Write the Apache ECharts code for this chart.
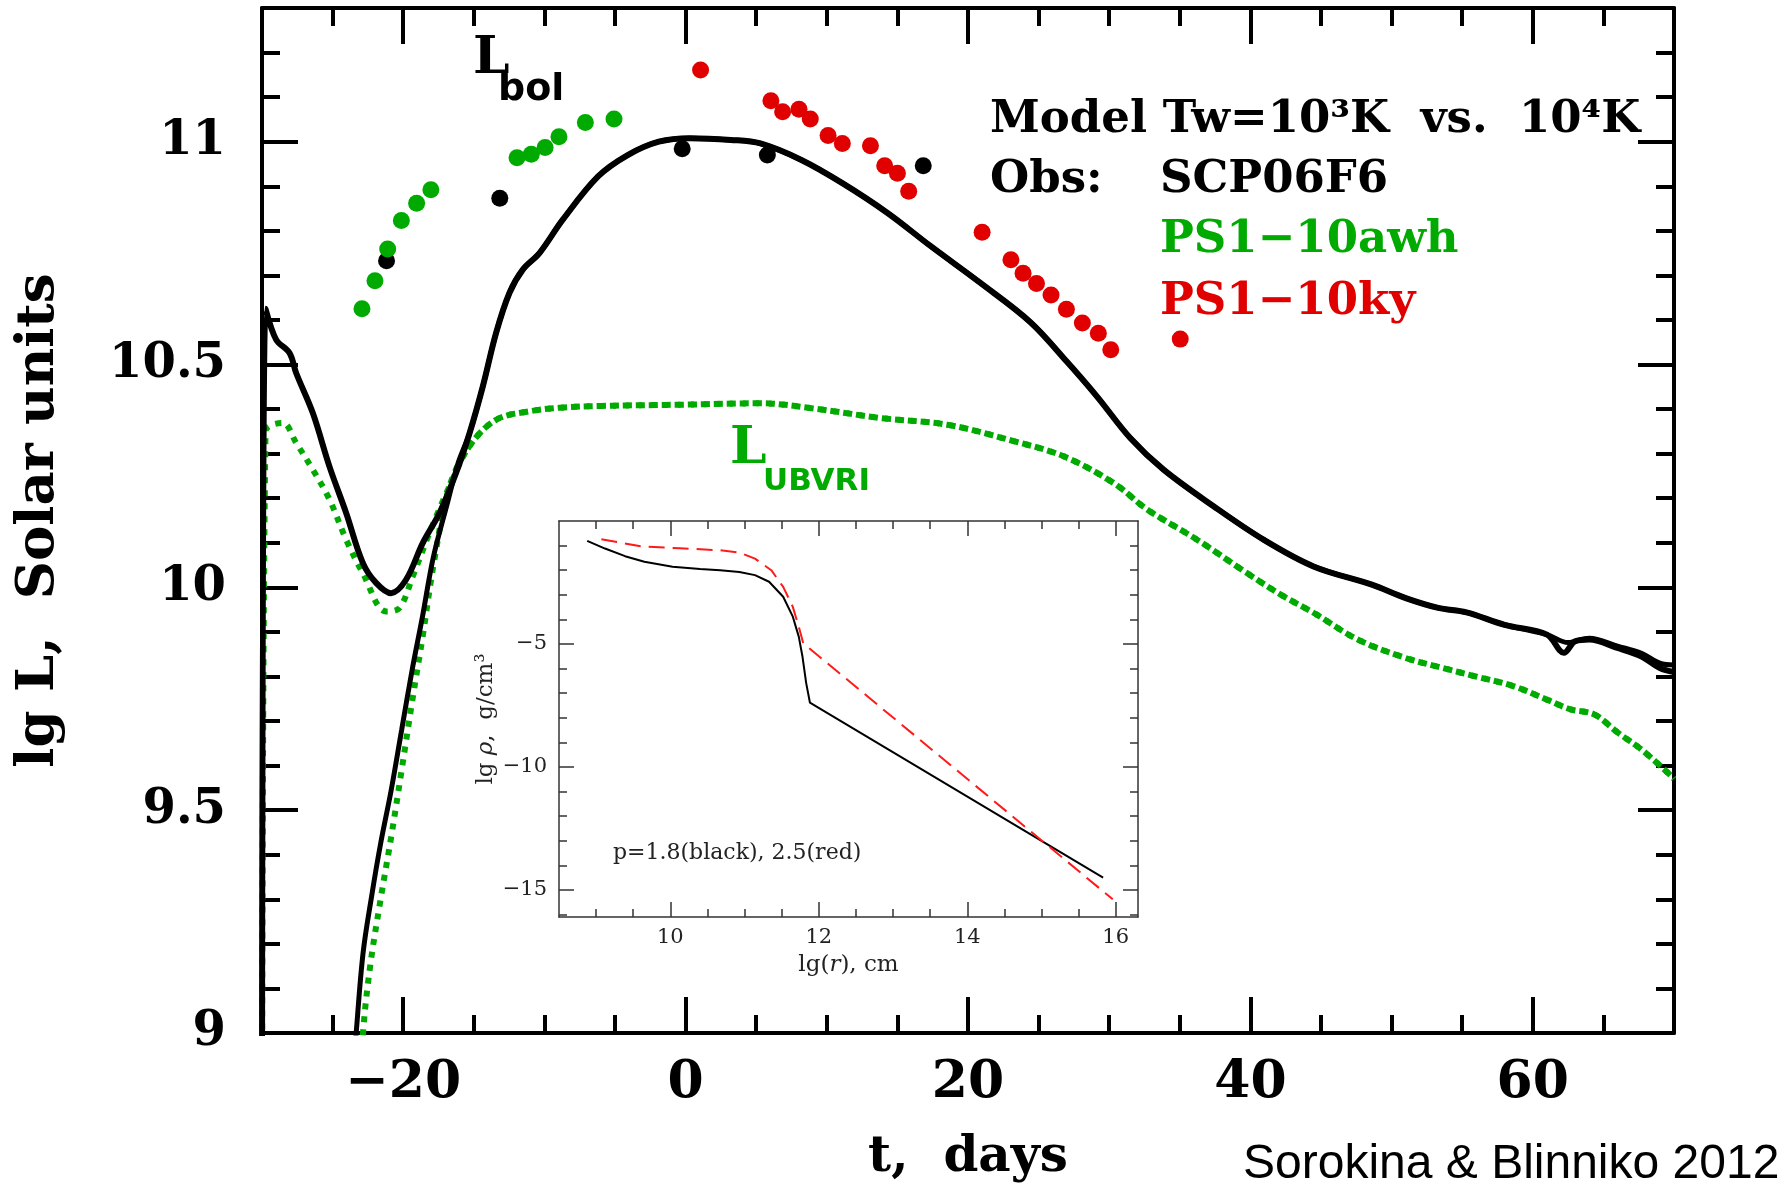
<!DOCTYPE html>
<html><head><meta charset="utf-8">
<script src="https://cdn.jsdelivr.net/npm/echarts@6/dist/echarts.min.js"></script>
<style>html,body{margin:0;padding:0;background:#fff}#c{width:1792px;height:1189px}</style>
</head><body><div id="c"></div>
<script>
// ---------- tick values ----------
const xMajorTicks = [-20, 0, 20, 40, 60];
const xMinorTicks = [-25, -15, -10, -5, 5, 10, 15, 25, 30, 35, 45, 50, 55, 65];
const yMajorTicks = [9, 9.5, 10, 10.5, 11];
const yMinorTicks = [9.1, 9.2, 9.3, 9.4, 9.6, 9.7, 9.8, 9.9, 10.1, 10.2, 10.3, 10.4, 10.6, 10.7, 10.8, 10.9, 11.1, 11.2];
const insetXMajorTicks = [10, 12, 14, 16];
const insetXMinorTicks = [9, 9.5, 10.5, 11, 11.5, 12.5, 13, 13.5, 14.5, 15, 15.5];
const insetYMajorTicks = [-15, -10, -5];
const insetYMinorTicks = [-16, -14, -13, -12, -11, -9, -8, -7, -6, -4, -3, -2, -1];

// ---------- L_bol model curves (t days, lg L) ----------
const lbolStartA = [[-30, 8.6], [-29.75, 10.625], [-29.0, 10.556], [-28.05, 10.526], [-27.58, 10.481], [-26.4, 10.391],
  [-25.22, 10.271], [-24.04, 10.167], [-22.86, 10.055], [-21.92, 10.01], [-20.86, 9.987], [-19.8, 10.017],
  [-18.61, 10.1], [-17.43, 10.167], [-16.25, 10.257]];
const lbolStartB = [[-24.6, 8.5], [-23.33, 9.0], [-22.84, 9.18], [-22.22, 9.31], [-21.6, 9.425], [-20.85, 9.545],
  [-20.11, 9.68], [-19.36, 9.816], [-18.62, 9.937], [-17.87, 10.067], [-16.88, 10.188], [-16.1, 10.28]];
const lbolMid = [[-15.3, 10.346], [-14.36, 10.451], [-13.42, 10.571], [-12.47, 10.661], [-11.53, 10.713],
  [-10.35, 10.75], [-8.7, 10.825], [-6.2, 10.922], [-4.1, 10.97], [-1.9, 11.0], [0.3, 11.008], [3.2, 11.004],
  [5.3, 10.996], [8.2, 10.959], [11.1, 10.907], [14.35, 10.839], [17.34, 10.766], [20.88, 10.683], [24.42, 10.595],
  [27.01, 10.506], [29.14, 10.428], [31.49, 10.335], [33.85, 10.264], [37.39, 10.182], [40.93, 10.107],
  [44.47, 10.047], [48.6, 10.006], [51.0, 9.976], [53.3, 9.954], [55.3, 9.944], [58.0, 9.916], [61.0, 9.894]];
const lbolEndA = [[62.2, 9.853], [63.0, 9.879], [64.0, 9.883], [66.0, 9.864], [67.7, 9.845], [69.0, 9.819], [70, 9.81]];
const lbolEndB = [[62.5, 9.876], [64.0, 9.886], [66.0, 9.868], [67.7, 9.852], [69.0, 9.83], [70, 9.826]];

// ---------- L_UBVRI model curves ----------
const ubvriStartA = [[-30, 8.6], [-29.75, 10.35], [-28.52, 10.369], [-27.58, 10.324], [-26.4, 10.264], [-25.22, 10.197],
  [-24.04, 10.107], [-22.86, 10.032], [-21.21, 9.946], [-20.26, 9.954], [-19.32, 10.025], [-18.14, 10.122],
  [-16.72, 10.227]];
const ubvriStartB = [[-23.9, 8.5], [-22.84, 9.002], [-22.34, 9.15], [-21.6, 9.3], [-20.85, 9.44], [-20.11, 9.59],
  [-19.36, 9.745], [-18.62, 9.89], [-17.8, 10.06], [-16.72, 10.227]];
const ubvriMid = [[-15.3, 10.317], [-13.42, 10.376], [-11.06, 10.395], [-8.94, 10.403], [-5.95, 10.407],
  [-0.09, 10.41], [5.32, 10.413], [8.93, 10.402], [13.8, 10.38], [18.52, 10.365], [23.24, 10.328], [26.78, 10.294],
  [30.32, 10.234], [32.68, 10.175], [36.22, 10.107], [39.76, 10.032], [42.24, 9.982], [44.47, 9.943], [47.6, 9.883],
  [50.95, 9.842], [53.63, 9.819], [55.97, 9.8], [58.66, 9.778], [61.0, 9.748], [62.68, 9.726], [64.35, 9.715],
  [66.02, 9.674], [67.7, 9.636], [69.7, 9.58], [70, 9.57]];

// ---------- observations ----------
const obsSCP06F6 = [[-21.18, 10.733], [-13.16, 10.873], [-0.24, 10.984], [5.79, 10.97], [16.83, 10.946]];
const obsPS1awh = [[-22.92, 10.625], [-22.0, 10.688], [-21.1, 10.759], [-20.13, 10.823], [-19.05, 10.862],
  [-18.04, 10.892], [-11.94, 10.964], [-10.93, 10.972], [-9.95, 10.987], [-8.97, 11.011], [-7.1, 11.043], [-5.07, 11.051]];
const obsPS1ky = [[1.06, 11.161], [6.04, 11.092], [6.87, 11.067], [8.03, 11.073], [8.83, 11.051], [10.09, 11.014],
  [11.1, 10.996], [13.09, 10.991], [14.1, 10.946], [15.0, 10.929], [15.8, 10.889], [21.0, 10.797], [23.04, 10.735],
  [23.9, 10.705], [24.85, 10.682], [25.88, 10.656], [26.97, 10.624], [28.1, 10.593], [29.23, 10.57], [30.11, 10.533],
  [35.03, 10.557]];

// ---------- inset: density profiles (lg r, lg rho) ----------
const rhoBlack = [[8.88, -0.81], [9.12, -1.12], [9.39, -1.43], [9.65, -1.66], [10.03, -1.86], [10.40, -1.95],
  [10.67, -2.0], [10.93, -2.07], [11.14, -2.20], [11.33, -2.47], [11.52, -3.08], [11.65, -3.89], [11.73, -4.70],
  [11.78, -5.51], [11.83, -6.59], [11.88, -7.38], [15.83, -14.5]];
const rhoRed = [[9.07, -0.74], [9.6, -1.03], [10.13, -1.11], [10.67, -1.19], [10.93, -1.28], [11.14, -1.53],
  [11.36, -2.0], [11.52, -2.68], [11.65, -3.49], [11.73, -4.3], [11.79, -4.97], [15.96, -15.38]];

const GREEN = '#00aa00', RED = '#e00000';
const SERIF = '"DejaVu Serif"';
const minusFmt = v => (v < 0 ? '\u2212' + Math.abs(v) : String(v));

function axis(grid, pos, min, max, ticks, len, o) {
  o = o || {};
  const a = {
    type: 'value', gridIndex: grid, position: pos, min: min, max: max,
    axisLine: { show: !!o.line, onZero: false, lineStyle: { color: o.color || '#000', width: o.lw || 4 } },
    axisTick: { show: true, inside: true, length: len, customValues: ticks,
      lineStyle: { color: o.color || '#000', width: o.tw || 4 } },
    axisLabel: o.label ? Object.assign({ customValues: ticks }, o.label) : { show: false },
    splitLine: { show: false }, axisPointer: { show: false }
  };
  if (o.name) { Object.assign(a, o.name); }
  return a;
}

const mainXLabel = { show: true, margin: 24, formatter: minusFmt, color: '#000',
  fontFamily: SERIF, fontWeight: 'bold', fontSize: 52 };
const mainYLabel = { show: true, margin: 36, color: '#000',
  fontFamily: SERIF, fontWeight: 'bold', fontSize: 48 };
const inXLabel = { show: true, margin: 10, color: '#222', fontFamily: SERIF, fontSize: 21 };
const inYLabel = { show: true, margin: 12, color: '#222', fontFamily: SERIF, fontSize: 21, formatter: minusFmt };
const inO = { color: '#333', lw: 1.5, tw: 1.5 };

const option = {
  animation: false,
  backgroundColor: '#fff',
  grid: [
    { left: 262, top: 8, width: 1412, height: 1025 },
    { left: 559, top: 521, width: 579, height: 396 }
  ],
  xAxis: [
    axis(0, 'bottom', -30, 70, xMajorTicks, 36, { line: true, label: mainXLabel, name: {
      name: 't,  days', nameLocation: 'middle', nameGap: 100,
      nameTextStyle: { fontFamily: SERIF, fontWeight: 'bold', fontSize: 50, color: '#000' } } }),
    axis(0, 'bottom', -30, 70, xMinorTicks, 18),
    axis(0, 'top', -30, 70, xMajorTicks, 36, { line: true }),
    axis(0, 'top', -30, 70, xMinorTicks, 18),
    axis(1, 'bottom', 8.5, 16.3, insetXMajorTicks, 15, Object.assign({ line: true, label: inXLabel, name: {
      name: 'lg({i|r}), cm', nameLocation: 'middle', nameGap: 37,
      nameTextStyle: { fontFamily: SERIF, fontSize: 23, color: '#222',
        rich: { i: { fontFamily: SERIF, fontSize: 23, fontStyle: 'italic', color: '#222' } } } } }, inO)),
    axis(1, 'bottom', 8.5, 16.3, insetXMinorTicks, 8, inO),
    axis(1, 'top', 8.5, 16.3, insetXMajorTicks, 15, Object.assign({ line: true }, inO)),
    axis(1, 'top', 8.5, 16.3, insetXMinorTicks, 8, inO)
  ],
  yAxis: [
    axis(0, 'left', 9, 11.3, yMajorTicks, 36, { line: true, label: mainYLabel, name: {
      name: 'lg L,  Solar units', nameLocation: 'middle', nameGap: 196,
      nameTextStyle: { fontFamily: SERIF, fontWeight: 'bold', fontSize: 53, color: '#000' } } }),
    axis(0, 'left', 9, 11.3, yMinorTicks, 18),
    axis(0, 'right', 9, 11.3, yMajorTicks, 36, { line: true }),
    axis(0, 'right', 9, 11.3, yMinorTicks, 18),
    axis(1, 'left', -16.1, 0, insetYMajorTicks, 15, Object.assign({ line: true, label: inYLabel, name: {
      name: 'lg {i|\u03c1},  g/cm\u00b3', nameLocation: 'middle', nameGap: 61,
      nameTextStyle: { fontFamily: SERIF, fontSize: 23, color: '#222',
        rich: { i: { fontFamily: SERIF, fontSize: 23, fontStyle: 'italic', color: '#222' } } } } }, inO)),
    axis(1, 'left', -16.1, 0, insetYMinorTicks, 8, inO),
    axis(1, 'right', -16.1, 0, insetYMajorTicks, 15, Object.assign({ line: true }, inO)),
    axis(1, 'right', -16.1, 0, insetYMinorTicks, 8, inO)
  ],
  series: [
    { type: 'line', name: 'UBVRI A', xAxisIndex: 0, yAxisIndex: 0, data: ubvriStartA.concat(ubvriMid),
      showSymbol: false, smooth: 0.35,
      lineStyle: { color: GREEN, width: 6, type: [6, 7], cap: 'butt' } },
    { type: 'line', name: 'UBVRI B', xAxisIndex: 0, yAxisIndex: 0, data: ubvriStartB.concat(ubvriMid),
      showSymbol: false, smooth: 0.35,
      lineStyle: { color: GREEN, width: 6, type: [6, 7], cap: 'butt' } },
    { type: 'line', name: 'Lbol A', xAxisIndex: 0, yAxisIndex: 0, data: lbolStartA.concat(lbolMid, lbolEndA),
      showSymbol: false, smooth: 0.35, lineStyle: { color: '#000', width: 6 } },
    { type: 'line', name: 'Lbol B', xAxisIndex: 0, yAxisIndex: 0, data: lbolStartB.concat(lbolMid, lbolEndB),
      showSymbol: false, smooth: 0.35, lineStyle: { color: '#000', width: 5 } },
    { type: 'scatter', name: 'SCP06F6', xAxisIndex: 0, yAxisIndex: 0, data: obsSCP06F6,
      symbolSize: 17, itemStyle: { color: '#000', opacity: 1 } },
    { type: 'scatter', name: 'PS1-10awh', xAxisIndex: 0, yAxisIndex: 0, data: obsPS1awh,
      symbolSize: 17, itemStyle: { color: GREEN, opacity: 1 } },
    { type: 'scatter', name: 'PS1-10ky', xAxisIndex: 0, yAxisIndex: 0, data: obsPS1ky,
      symbolSize: 17, itemStyle: { color: RED, opacity: 1 } },
    { type: 'line', name: 'p=1.8', xAxisIndex: 4, yAxisIndex: 4, data: rhoBlack, showSymbol: false,
      lineStyle: { color: '#000', width: 2 } },
    { type: 'line', name: 'p=2.5', xAxisIndex: 4, yAxisIndex: 4, data: rhoRed, showSymbol: false,
      lineStyle: { color: '#ff1a1a', width: 2, type: [16, 8] } }
  ],
  graphic: [
    { type: 'text', x: 990, y: 120, style: { text: 'Model Tw=10\u00b3K  vs.  10\u2074K', font: 'bold 45px "DejaVu Serif"', fill: '#000', textAlign: 'left', textVerticalAlign: 'middle' } },
    { type: 'text', x: 990, y: 180, style: { text: 'Obs:', font: 'bold 45px "DejaVu Serif"', fill: '#000', textAlign: 'left', textVerticalAlign: 'middle' } },
    { type: 'text', x: 1160, y: 180, style: { text: 'SCP06F6', font: 'bold 45px "DejaVu Serif"', fill: '#000', textAlign: 'left', textVerticalAlign: 'middle' } },
    { type: 'text', x: 1160, y: 240, style: { text: 'PS1\u221210awh', font: 'bold 45px "DejaVu Serif"', fill: GREEN, textAlign: 'left', textVerticalAlign: 'middle' } },
    { type: 'text', x: 1160, y: 302, style: { text: 'PS1\u221210ky', font: 'bold 45px "DejaVu Serif"', fill: RED, textAlign: 'left', textVerticalAlign: 'middle' } },
    { type: 'text', x: 473, y: 59, style: { text: 'L', font: 'bold 52px "DejaVu Serif"', fill: '#000', textAlign: 'left', textVerticalAlign: 'middle' } },
    { type: 'text', x: 498, y: 90, style: { text: 'bol', font: 'bold 38px "DejaVu Sans"', fill: '#000', textAlign: 'left', textVerticalAlign: 'middle' } },
    { type: 'text', x: 730, y: 449, style: { text: 'L', font: 'bold 52px "DejaVu Serif"', fill: GREEN, textAlign: 'left', textVerticalAlign: 'middle' } },
    { type: 'text', x: 763, y: 482, style: { text: 'UBVRI', font: 'bold 31px "DejaVu Sans"', fill: GREEN, textAlign: 'left', textVerticalAlign: 'middle' } },
    { type: 'text', x: 613, y: 853, style: { text: 'p=1.8(black), 2.5(red)', font: '22px "DejaVu Serif"', fill: '#222', textAlign: 'left', textVerticalAlign: 'middle' } },
    { type: 'text', x: 1243, y: 1165, style: { text: 'Sorokina & Blinniko 2012', font: '48px "Liberation Sans"', fill: '#000', textAlign: 'left', textVerticalAlign: 'middle' } }
  ]
};

const chart = echarts.init(document.getElementById('c'), null, { renderer: 'canvas' });
chart.setOption(option);
</script></body></html>
